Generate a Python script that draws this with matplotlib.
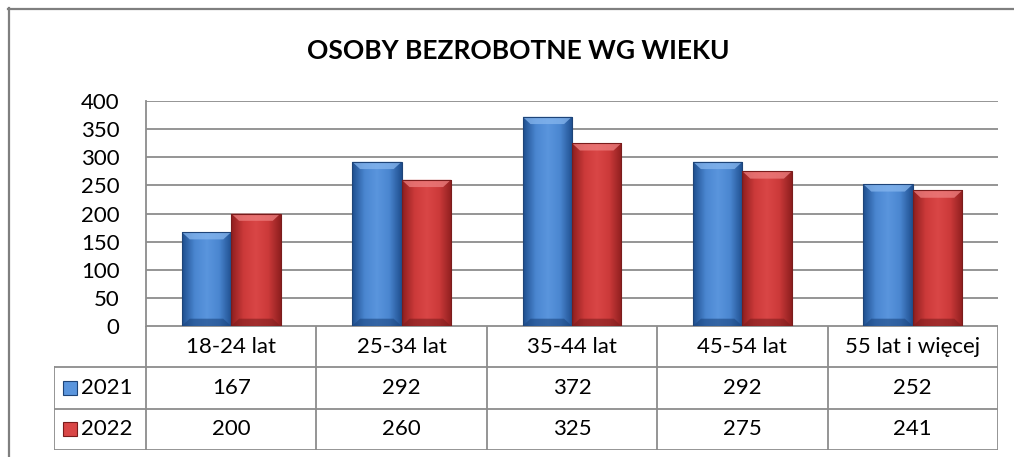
import numpy as np
import matplotlib
matplotlib.use("Agg")
import matplotlib.pyplot as plt
from matplotlib.colors import LinearSegmentedColormap
from matplotlib.patches import Rectangle, Polygon

categories = ["18-24 lat", "25-34 lat", "35-44 lat", "45-54 lat", "55 lat i więcej"]
series_names = ["2021", "2022"]
values_2021 = [167, 292, 372, 292, 252]
values_2022 = [200, 260, 325, 275, 241]
y_ticks = [0, 50, 100, 150, 200, 250, 300, 350, 400]
title = "OSOBY BEZROBOTNE WG WIEKU"

plt.rcParams["font.family"] = ["Lato", "DejaVu Sans"]

W, H = 1014, 457
fig = plt.figure(figsize=(W / 100, H / 100), dpi=100, facecolor="white")

def fx(px):
    return px / W

def fy(py):
    return 1 - py / H

GRID = "#8c8c8c"
FS = 16

# outer frame (top + left only visible)
fig.add_artist(plt.Line2D([fx(8), 1], [fy(8.5), fy(8.5)], color="#7f7f7f", lw=1.6))
fig.add_artist(plt.Line2D([fx(8.5), fx(8.5)], [fy(8), 0], color="#7f7f7f", lw=1.6))

fig.text(fx(518), fy(51), title, ha="center", va="center", fontsize=19,
         fontweight="bold", color="black")

left, right, top, bottom = 146, 998, 101, 326
ax = fig.add_axes([fx(left), fy(bottom), fx(right - left), (bottom - top) / H])
x = np.arange(len(categories))
bw = 0.29

cmaps = {
    "blue": LinearSegmentedColormap.from_list("b", ["#1f4f8f", "#4a86d0", "#5a95dd", "#4a86d0", "#1f4f8f"]),
    "red": LinearSegmentedColormap.from_list("r", ["#8f1f1f", "#cc3a3a", "#d94646", "#cc3a3a", "#8f1f1f"]),
}
edge = {"blue": "#1e4478", "red": "#7a1c1c"}
top_col = {"blue": "#86b6ee", "red": "#ee8080"}
bot_col = {"blue": "#1c4680", "red": "#7e1e1e"}

def draw_bars(xs, vals, key):
    bars = ax.bar(xs, vals, bw, color="none", edgecolor=edge[key], lw=0.8, zorder=3)
    grad = np.linspace(0, 1, 64).reshape(1, -1)
    for b in bars:
        x0, y0 = b.get_x(), b.get_y()
        w, h = b.get_width(), b.get_height()
        im = ax.imshow(grad, cmap=cmaps[key], aspect="auto",
                       extent=[x0, x0 + w, y0, y0 + h], zorder=2.5)
        im.set_clip_path(b)
        bv = 13
        ix = w * 0.16
        ax.add_patch(Polygon([(x0, y0 + h), (x0 + w, y0 + h), (x0 + w - ix, y0 + h - bv),
                              (x0 + ix, y0 + h - bv)], closed=True,
                             color=top_col[key], alpha=0.75, zorder=2.8, lw=0))
        ax.add_patch(Polygon([(x0, y0), (x0 + w, y0), (x0 + w - ix, y0 + bv),
                              (x0 + ix, y0 + bv)], closed=True,
                             color=bot_col[key], alpha=0.6, zorder=2.8, lw=0))
    return bars

draw_bars(x - bw / 2, values_2021, "blue")
draw_bars(x + bw / 2, values_2022, "red")

ax.set_xlim(-0.5, len(categories) - 0.5)
ax.set_ylim(0, 400)
ax.set_yticks(y_ticks)
ax.set_yticklabels([str(t) for t in y_ticks], fontsize=FS)
ax.set_xticks([])
ax.yaxis.grid(True, color=GRID, lw=1.3)
ax.set_axisbelow(True)
ax.tick_params(axis="y", length=0, pad=19)
for s in ["top", "right", "bottom"]:
    ax.spines[s].set_visible(False)
ax.spines["left"].set_color(GRID)
ax.spines["left"].set_linewidth(1.3)
ax.set_facecolor("none")

# data table below the plot
tab_left, tab_bottom = 54, 450
unit = (right - left) / len(categories)
legend_w = (left - tab_left) / unit
tx = fig.add_axes([fx(tab_left), fy(tab_bottom), fx(right - tab_left), (tab_bottom - bottom) / H])
tx.set_xlim(-0.5 - legend_w, len(categories) - 0.5)
tx.set_ylim(0, 3)
tx.axis("off")
lk = dict(color=GRID, lw=1.3)
tx.plot([-0.5, len(categories) - 0.5], [3, 3], **lk)
for yy in [2, 1, 0]:
    tx.plot([-0.5 - legend_w, len(categories) - 0.5], [yy, yy], **lk)
tx.plot([-0.5 - legend_w] * 2, [0, 2], **lk)
for i in range(len(categories) + 1):
    tx.plot([i - 0.5] * 2, [0, 3], **lk)

for i, c in enumerate(categories):
    tx.text(i, 2.5, c, ha="center", va="center", fontsize=FS)
    tx.text(i, 1.5, str(values_2021[i]), ha="center", va="center", fontsize=FS)
    tx.text(i, 0.5, str(values_2022[i]), ha="center", va="center", fontsize=FS)

sq = 0.085
for row, (name, key) in zip([1.5, 0.5], zip(series_names, ["blue", "red"])):
    sx = -0.5 - legend_w + 0.05
    tx.add_patch(Rectangle((sx, row - 0.17), sq, 0.34,
                           facecolor=cmaps[key](0.5), edgecolor=edge[key], lw=0.8))
    tx.text(sx + sq + 0.025, row, name, ha="left", va="center", fontsize=FS)

fig.savefig("out.png", dpi=100, facecolor="white")
